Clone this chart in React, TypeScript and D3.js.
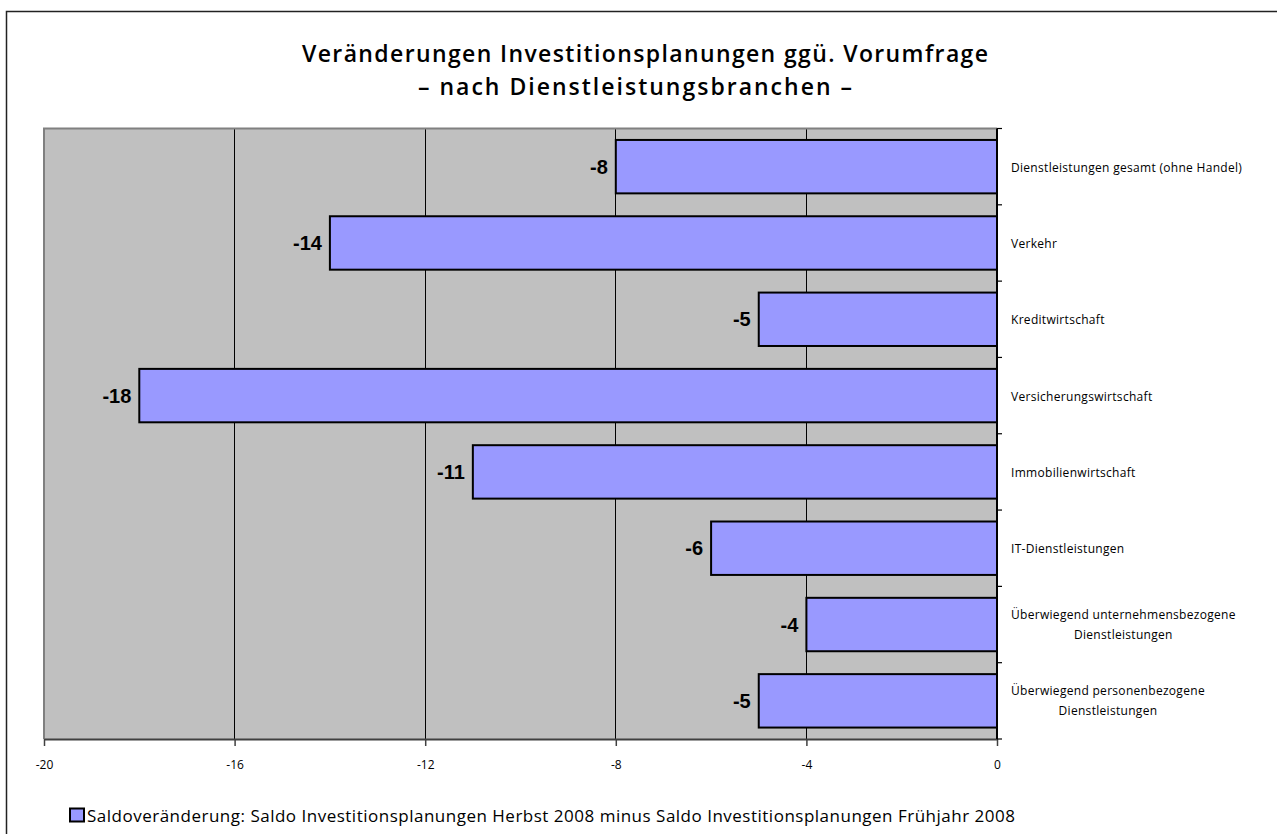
import React, { useEffect, useRef } from "react";
import { select, scaleLinear, scaleBand, axisBottom } from "d3";

// chart data
const categories = [
  "Dienstleistungen gesamt (ohne Handel)",
  "Verkehr",
  "Kreditwirtschaft",
  "Versicherungswirtschaft",
  "Immobilienwirtschaft",
  "IT-Dienstleistungen",
  "Überwiegend unternehmensbezogene|Dienstleistungen",
  "Überwiegend personenbezogene|Dienstleistungen",
];
const values = [-8, -14, -5, -18, -11, -6, -4, -5];
const xTicks = [-20, -16, -12, -8, -4, 0];
const titleLines = [
  "Veränderungen Investitionsplanungen ggü. Vorumfrage",
  "– nach Dienstleistungsbranchen –",
];
const legendLabel =
  "Saldoveränderung: Saldo Investitionsplanungen Herbst 2008 minus Saldo Investitionsplanungen Frühjahr 2008";

const canvasWidth = 1277;
const canvasHeight = 834;
const plot = { left: 44, right: 997, top: 128.5, bottom: 739 };
const humanist = "'Open Sans', 'Noto Sans', sans-serif";

function App() {
  const svgRef = useRef<SVGSVGElement>(null);

  useEffect(() => {
    const svg = select(svgRef.current);
    svg.selectAll("*").remove();

    const x = scaleLinear().domain([-20, 0]).range([plot.left, plot.right]);
    const y = scaleBand()
      .domain(categories)
      .range([plot.top, plot.bottom])
      .paddingInner(0.3)
      .paddingOuter(0.15);

    // outer frame (runs off right/bottom edge like the original)
    svg
      .append("rect")
      .attr("x", 6.5)
      .attr("y", 11.5)
      .attr("width", 1400)
      .attr("height", 1000)
      .attr("fill", "white")
      .attr("stroke", "#222")
      .attr("stroke-width", 1.5);

    // title
    svg
      .append("g")
      .selectAll("text")
      .data(titleLines)
      .join("text")
      .attr("x", (d, i) => (i === 0 ? 645 : 635))
      .attr("y", (d, i) => 62 + i * 33)
      .attr("text-anchor", "middle")
      .attr("font-family", humanist)
      .attr("font-weight", 600)
      .attr("font-size", 23)
      .attr("textLength", (d, i) => (i === 0 ? 686 : 434))
      .attr("lengthAdjust", "spacing")
      .text((d) => d);

    // plot background
    svg
      .append("rect")
      .attr("x", plot.left)
      .attr("y", plot.top)
      .attr("width", plot.right - plot.left)
      .attr("height", plot.bottom - plot.top)
      .attr("fill", "#C0C0C0");

    // gridlines
    svg
      .append("g")
      .selectAll("line")
      .data(xTicks.filter((t) => t > -20 && t < 0))
      .join("line")
      .attr("x1", (d) => x(d))
      .attr("x2", (d) => x(d))
      .attr("y1", plot.top)
      .attr("y2", plot.bottom)
      .attr("stroke", "#000")
      .attr("stroke-width", 1)
      .attr("shape-rendering", "crispEdges");

    // plot border left/top (gray)
    svg
      .append("path")
      .attr("d", `M${plot.left},${plot.bottom}V${plot.top}H${plot.right}`)
      .attr("fill", "none")
      .attr("stroke", "#808080")
      .attr("stroke-width", 2);

    // bars
    svg
      .append("g")
      .selectAll("rect")
      .data(values)
      .join("rect")
      .attr("x", (d) => x(d))
      .attr("y", (d, i) => y(categories[i])!)
      .attr("width", (d) => x(0) - x(d))
      .attr("height", y.bandwidth())
      .attr("fill", "#9999FF")
      .attr("stroke", "#000")
      .attr("stroke-width", 2);

    // value labels
    svg
      .append("g")
      .selectAll("text")
      .data(values)
      .join("text")
      .attr("x", (d) => x(d) - 8)
      .attr("y", (d, i) => y(categories[i])! + y.bandwidth() / 2 + 7)
      .attr("text-anchor", "end")
      .attr("font-family", "'Liberation Sans', Arial, sans-serif")
      .attr("font-weight", "bold")
      .attr("font-size", 20)
      .text((d) => String(d));

    // bottom axis
    const xAxis = svg
      .append("g")
      .attr("transform", `translate(0, ${plot.bottom})`)
      .call(
        axisBottom(x)
          .tickValues(xTicks)
          .tickSize(7)
          .tickSizeOuter(0)
          .tickPadding(14)
          .tickFormat((d) => String(d))
      );
    xAxis.select(".domain").attr("stroke", "#404040").attr("stroke-width", 2);
    xAxis.selectAll(".tick line").attr("stroke", "#404040").attr("stroke-width", 1.5);
    xAxis
      .selectAll(".tick text")
      .attr("font-family", humanist)
      .attr("font-size", 12)
      .attr("fill", "#000");

    // right category axis at zero
    svg
      .append("line")
      .attr("x1", x(0))
      .attr("x2", x(0))
      .attr("y1", plot.top)
      .attr("y2", plot.bottom)
      .attr("stroke", "#000")
      .attr("stroke-width", 2);
    const boundaries = categories
      .map((c) => y(c)! - (y.step() * 0.3) / 2)
      .concat([plot.bottom]);
    svg
      .append("g")
      .selectAll("line")
      .data(boundaries)
      .join("line")
      .attr("x1", x(0))
      .attr("x2", x(0) + 5)
      .attr("y1", (d) => d)
      .attr("y2", (d) => d)
      .attr("stroke", "#000")
      .attr("stroke-width", 1.2);

    // category labels on the right
    const labelX = x(0) + 14;
    categories.forEach((c) => {
      const lines = c.split("|");
      const cy = y(c)! + y.bandwidth() / 2;
      const first = svg
        .append("text")
        .attr("x", labelX)
        .attr("y", lines.length === 1 ? cy + 5 : cy - 6)
        .attr("font-family", humanist)
        .attr("font-size", 12)
        .attr("letter-spacing", 0.3)
        .text(lines[0]);
      if (lines.length > 1) {
        const w = (first.node() as SVGTextElement).getComputedTextLength();
        svg
          .append("text")
          .attr("x", labelX + w / 2)
          .attr("y", cy + 14)
          .attr("text-anchor", "middle")
          .attr("font-family", humanist)
          .attr("font-size", 12)
          .attr("letter-spacing", 0.3)
          .text(lines[1]);
      }
    });

    // legend
    const legend = svg.append("g");
    legend
      .append("rect")
      .attr("x", 70)
      .attr("y", 808.5)
      .attr("width", 14)
      .attr("height", 13)
      .attr("fill", "#9999FF")
      .attr("stroke", "#000")
      .attr("stroke-width", 2);
    legend
      .append("text")
      .attr("x", 87)
      .attr("y", 822)
      .attr("font-family", humanist)
      .attr("font-size", 17)
      .attr("textLength", 928)
      .attr("lengthAdjust", "spacing")
      .text(legendLabel);
  }, []);

  return (
    <svg
      ref={svgRef}
      width={canvasWidth}
      height={canvasHeight}
      style={{ position: "absolute", left: 0, top: 0, background: "white" }}
    />
  );
}

export default App;
